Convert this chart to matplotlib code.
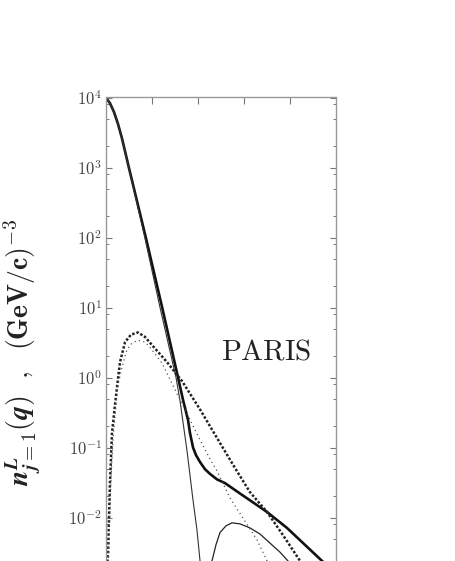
import numpy as np
import matplotlib
matplotlib.use('Agg')
import matplotlib.pyplot as plt
from matplotlib.ticker import NullFormatter, FixedLocator, FuncFormatter

plt.rcParams['mathtext.fontset'] = 'cm'
plt.rcParams['font.family'] = 'serif'
plt.rcParams['font.serif'] = ['DejaVu Serif']

# momentum q (GeV/c) and momentum distribution n(q)
q_tot = [0.0, 0.043, 0.087, 0.130, 0.174, 0.25, 0.435, 0.609, 0.783, 0.837,
         0.891, 0.913, 0.946, 0.978, 1.022, 1.076, 1.13, 1.207, 1.293, 1.457,
         1.75, 1.967, 2.348, 2.45]
n_tot = [9.9e3, 8.3e3, 6.2e3, 4.2e3, 2.6e3, 9.8e2, 97, 10.2, 1.0, 0.48,
         0.25, 0.161, 0.10, 0.078, 0.062, 0.049, 0.042, 0.035, 0.031, 0.022,
         0.012, 7.1e-3, 2.4e-3, 1.8e-3]

# thin solid, before the node
q_s1 = [0.0, 0.043, 0.087, 0.130, 0.174, 0.25, 0.424, 0.587, 0.761, 0.804,
        0.880, 0.946, 0.989, 1.022, 1.04]
n_s1 = [9.9e3, 8.3e3, 6.2e3, 4.2e3, 2.6e3, 9.7e2, 97, 10, 1.0, 0.47,
        0.091, 0.0176, 6.6e-3, 2.4e-3, 1.0e-3]
# thin solid, after the node
q_s2 = [1.13, 1.152, 1.196, 1.239, 1.304, 1.370, 1.457, 1.565, 1.674, 1.783,
        1.891, 1.978, 2.02]
n_s2 = [8e-4, 2.4e-3, 4.1e-3, 6.1e-3, 7.6e-3, 8.4e-3, 8.1e-3, 7.1e-3, 5.8e-3,
        4.3e-3, 3.2e-3, 2.4e-3, 1.9e-3]

# thick dotted
q_d1 = [0.005, 0.016, 0.022, 0.043, 0.065, 0.098, 0.120, 0.152, 0.207, 0.272,
        0.348, 0.424, 0.511, 0.663, 0.826, 1.022, 1.239, 1.402, 1.565, 1.75,
        1.924, 2.109, 2.217]
n_d1 = [4e-4, 2.3e-3, 3.1e-3, 0.031, 0.16, 0.41, 0.73, 1.66, 3.2, 4.1,
        4.4, 3.8, 2.8, 1.66, 0.89, 0.35, 0.116, 0.051, 0.023, 0.012,
        5.6e-3, 2.4e-3, 1.5e-3]

# thin dotted
q_d2 = [0.015, 0.027, 0.033, 0.054, 0.076, 0.109, 0.130, 0.174, 0.228, 0.283,
        0.348, 0.424, 0.478, 0.609, 0.75, 0.913, 1.022, 1.13, 1.207, 1.348,
        1.489, 1.641, 1.75, 1.80]
n_d2 = [5e-4, 2.3e-3, 4.8e-3, 0.035, 0.128, 0.41, 0.78, 1.41, 2.5, 3.1,
        3.4, 3.2, 2.7, 1.6, 0.67, 0.25, 0.128, 0.069, 0.046, 0.019,
        9.8e-3, 4.8e-3, 2.4e-3, 1.8e-3]

y_major = [1e-2, 1e-1, 1e0, 1e1, 1e2, 1e3, 1e4]
y_minor = [m * 10.0 ** e for e in range(-3, 4) for m in (2, 5, 8)]
x_major = [0.5, 1.0, 1.5, 2.0]

fig = plt.figure(figsize=(4.56, 5.61), dpi=100)
W, H = 456, 561
# the axes run past the bottom edge of the figure, as in the cropped original
ax = fig.add_axes([106 / W, 1 - 580 / H, 230 / W, (580 - 97.5) / H])

ax.plot(q_tot, n_tot, '-', color='#111111', lw=1.9)
ax.plot(q_s1, n_s1, '-', color='#333333', lw=0.8)
ax.plot(q_s2, n_s2, '-', color='#222222', lw=0.9)
ax.plot(q_d1, n_d1, color='#222222', lw=1.8, linestyle=(0, (1, 0.75)))
ax.plot(q_d2, n_d2, color='#555555', lw=0.9, linestyle=(0, (1, 2.6)))

ax.set_yscale('log')
ax.set_xlim(0, 2.5)
ax.set_ylim(10 ** (4 - (580 - 97.5) / 70), 1e4)

ax.yaxis.set_major_locator(FixedLocator(y_major))
ax.yaxis.set_major_formatter(FuncFormatter(lambda v, p: r'$10^{%d}$' % round(np.log10(v))))
ax.yaxis.set_minor_locator(FixedLocator(y_minor))
ax.yaxis.set_minor_formatter(NullFormatter())
ax.xaxis.set_major_locator(FixedLocator(x_major))
ax.set_xticklabels([])

for s in ax.spines.values():
    s.set_color('#999999')
    s.set_linewidth(1.0)
ax.spines['bottom'].set_visible(False)

ax.tick_params(axis='both', which='both', direction='in', color='#777777',
               top=True, right=True, bottom=False)
ax.tick_params(axis='y', which='major', length=4, width=0.8, labelsize=12,
               labelcolor='#444444', pad=3)
ax.tick_params(axis='y', which='minor', length=2, width=0.7)
ax.tick_params(axis='x', which='major', length=5, width=0.8)

ax.text(1.743, 10 ** (4 - (351 - 97.5) / 70), r'$\mathrm{PARIS}$',
        fontsize=21, ha='center', va='center', color='#222222')

fig.text(22 / W, 1 - 352 / H,
         r'$\mathbfit{n}^{\mathbfit{L}}_{\mathbfit{j}\mathbf{=1}}\mathbf{(}\mathbfit{q}\mathbf{)}'
         r'\ \ ,\ \ \mathbf{(GeV/c)^{-3}}$',
         rotation=90, ha='center', va='center', fontsize=20, color='#222222')

fig.savefig('out.png', dpi=100)
